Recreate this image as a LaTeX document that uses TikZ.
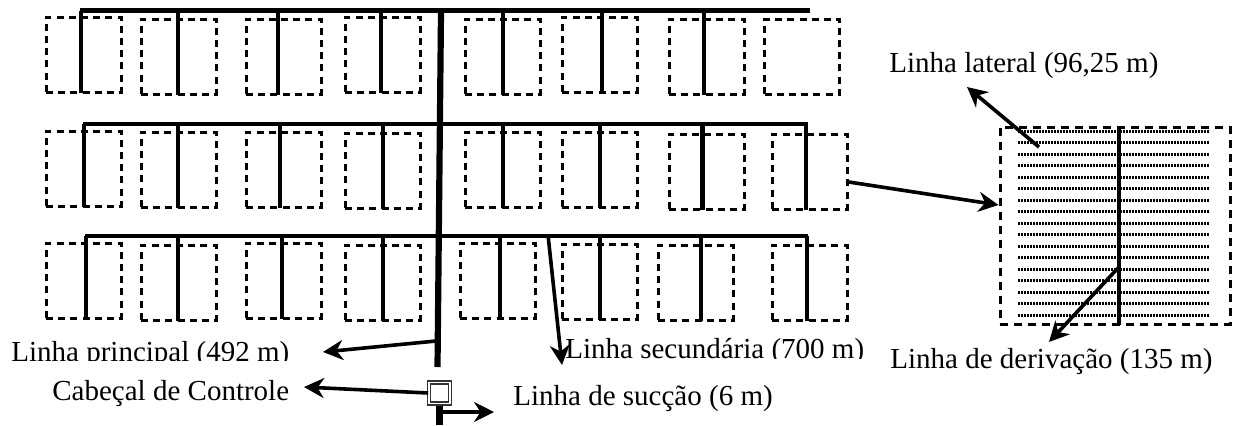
\documentclass[tikz,border=0pt]{standalone}
\usepackage{fontspec}
\setmainfont{Liberation Serif}
\usetikzlibrary{arrows.meta}
\tikzset{
  lote/.style={draw,line width=1.5pt,dash pattern=on 3.5pt off 2.6pt,minimum width=37.5pt,minimum height=37.5pt,inner sep=0pt},
  detalhe/.style={draw,line width=1.5pt,dash pattern=on 4.2pt off 2.8pt,minimum width=115pt,minimum height=98.5pt,inner sep=0pt},
  controle/.style={draw=black!80,fill=white,double=white,line width=0.8pt,double distance=0.7pt,minimum size=10.5pt,inner sep=0pt},
  ramal/.style={line width=2.1pt},
  secundaria/.style={line width=2.4pt},
  principal/.style={line width=3.1pt},
  seta/.style={line width=1.8pt,-{Stealth[length=10pt,width=10pt]}},
  rotulo/.style={anchor=base west,inner sep=0pt,font=\fontsize{14.5}{16}\selectfont},
}
\begin{document}
\begin{tikzpicture}[x=0.5pt,y=-0.5pt]
\useasboundingbox (0,0) rectangle (1234,425);
% primeira fila
\foreach \bx/\by/\vx [count=\i] in {45/16/81,140/18/178,245/18/278,344/16/381,464/18/503,561/16/602,668/18/704}{
  \node [lote] (a\i) at (\bx+38.5,\by+38.5) {};
  \draw [ramal] (\vx,10.5) -- (\vx,\by+77);
}
\node [lote] (a8) at (802,56.5) {};
% segunda fila
\foreach \bx/\by/\vx [count=\i] in {45/130/84,140/131/178,245/131/280,344/132/383,464/131/503,561/131/600,668/133/702.5,771/133/806}{
  \node [lote] (b\i) at (\bx+38.5,\by+38.5) {};
  \draw [ramal] (\vx,124) -- (\vx,\by+77);
}
% terceira fila
\foreach \bx/\by/\vx [count=\i] in {45/242/86,140/244/178,245/242/282,344/244/383,459/242/500,561/243/600,657/244/701,771/244/807}{
  \node [lote] (c\i) at (\bx+38.5,\by+38.5) {};
  \draw [ramal] (\vx,236) -- (\vx,\by+77);
}
\draw [secundaria] (80,10.5) -- (810,10.5);
\draw [secundaria] (83,124) -- (808,124);
\draw [secundaria] (85,236) -- (808,236);
\coordinate (topo) at (441,11);
\coordinate (fim) at (437.5,367);
\draw [principal] (topo) -- (fim);
% lote ampliado
\node [detalhe] (det) at (1115,225.5) {};
\foreach \k in {0,...,16}{
  \draw [line width=1.5pt,dash pattern=on 0.9pt off 0.6pt] (1018,131+11.5*\k) -- (1209,131+11.5*\k);
}
\draw [ramal,line width=2.4pt] (1119,126) -- (1119,325);
% rotulos
\node [rotulo] (lat) at (889,72) {Linha lateral (96,25 m)};
\node [rotulo] (pri) at (11,361) {Linha principal (492 m)};
\node [rotulo] (cab) at (52,400) {Cabeçal de Controle};
\node [rotulo] (sec) at (565,358.5) {Linha secundária (700 m)};
\node [rotulo] (suc) at (513,405) {Linha de sucção (6 m)};
\node [rotulo] (der) at (890,368) {Linha de derivação (135 m)};
\fill [white] (5,361) rectangle (300,373);
\fill [white] (560,358.5) rectangle (875,373);
% cabecal
\node [controle] (ctrl) at (439.5,393) {};
\coordinate (sai) at (439.5,425);
\draw [principal] (ctrl) -- (sai);
\node [controle] at (ctrl) {};
% setas
\coordinate (p1) at (436,341);
\coordinate (p2) at (323,352);
\coordinate (s1) at (548,235);
\coordinate (s2) at (562,365);
\coordinate (k2) at (304,387);
\coordinate (u1) at (439.5,412);
\coordinate (u2) at (494,412);
\coordinate (l1) at (1039,147);
\coordinate (l2) at (967,87);
\coordinate (d1) at (1118,268);
\coordinate (d2) at (1049,342);
\draw [seta] (p1) -- (p2);
\draw [seta] (s1) -- (s2);
\draw [seta] (ctrl.west) -- (k2);
\draw [seta] (u1) -- (u2);
\draw [seta] (l1) -- (l2);
\draw [seta] (d1) -- (d2);
\draw [seta] (b8.-15) -- (det.170);
\end{tikzpicture}
\end{document}
